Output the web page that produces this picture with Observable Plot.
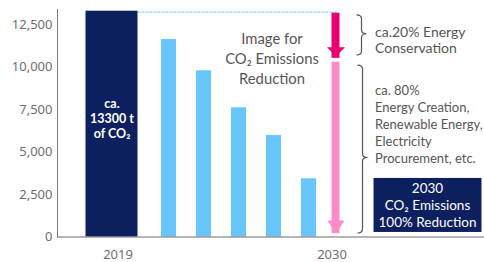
<!DOCTYPE html>
<html><head><meta charset="utf-8">
<script src="https://cdn.jsdelivr.net/npm/d3@7"></script>
<script src="https://cdn.jsdelivr.net/npm/@observablehq/plot@0.6"></script>
<style>body{margin:0;background:#fff} #chart{width:484px;height:262px}</style>
</head><body><div id="chart"></div>
<script>
// ---- data ----
const categories = ["2019", "s1", "s2", "s3", "s4", "s5", "2030"];
const baseYear = "2019";
const targetYear = "2030";
const baseValue = 13300;
const stepCategories = ["s1", "s2", "s3", "s4", "s5"];
const stepValues = [11630, 9790, 7610, 5980, 3430];
const arrowFrom = [13300, 10300];
const arrowTo = [10640, 200];
const yTicks = [0, 2500, 5000, 7500, 10000, 12500];
const xLabels = ["2019", "2030"];
const barText = ["ca.", `${baseValue} t`, "of CO₂"];
const centerText = ["Image for", "CO₂ Emissions", "Reduction"];
const block1Text = ["ca.20% Energy", "Conservation"];
const block2Text = ["ca. 80%", "Energy Creation,", "Renewable Energy,", "Electricity", "Procurement, etc."];
const boxText = ["2030", "CO₂ Emissions", "100% Reduction"];

// ---- styles ----
const navy = "#0c1f5e", sky = "#66c6fd", hot = "#e8006e", soft = "#ff8cc8", gray = "#555", axisGray = "#6e6e6e";
const stepData = stepCategories.map((c, i) => ({c, v: stepValues[i]}));
const arrows = arrowFrom.map((f, i) => ({c: targetYear, from: f, to: arrowTo[i]}));

function headSymbol(w, h) {
  return {draw(ctx) { ctx.moveTo(-w / 2, -h); ctx.lineTo(w / 2, -h); ctx.lineTo(0, 0); ctx.closePath(); }};
}
function bracket(vTop, vBot, tipFrac, offset) {
  return (index, scales) => {
    const sx = scales.x, sy = scales.y;
    const bw = typeof sx.bandwidth === "function" ? sx.bandwidth() : (scales.scales && scales.scales.x ? scales.scales.x.bandwidth : 0);
    const xv = sx(targetYear) + bw / 2 + offset;
    const y0 = sy(vTop), y1 = sy(vBot);
    const yt = y0 + (y1 - y0) * tipFrac;
    const r = 4, s = 5;
    const d = `M${xv - s},${y0} Q${xv},${y0} ${xv},${y0 + r} L${xv},${yt - r} Q${xv},${yt} ${xv + s},${yt} Q${xv},${yt} ${xv},${yt + r} L${xv},${y1 - r} Q${xv},${y1} ${xv - s},${y1}`;
    const path = document.createElementNS("http://www.w3.org/2000/svg", "path");
    path.setAttribute("d", d);
    path.setAttribute("fill", "none");
    path.setAttribute("stroke", gray);
    path.setAttribute("stroke-width", 1.2);
    return path;
  };
}

const plot = Plot.plot({
  width: 484, height: 262,
  marginLeft: 57, marginRight: 0, marginTop: 9, marginBottom: 25.5,
  style: {fontFamily: "Lato, sans-serif", background: "#fff", overflow: "visible"},
  x: {type: "band", domain: categories, paddingInner: 0.5775, paddingOuter: 2.803, align: 0.339, axis: null},
  y: {domain: [0, 13400], axis: null},
  marks: [
    Plot.axisY(yTicks, {tickSize: 0, tickPadding: 5, fontSize: 13, fill: axisGray, fontFamily: "Noto Sans", tickFormat: d3.format(","), label: null}),
    Plot.frame({anchor: "left", stroke: "#7a7a7a"}),
    Plot.lineY([{c: baseYear, v: baseValue}, {c: targetYear, v: baseValue}], {x: "c", y: "v", stroke: "#8fd3ff", strokeWidth: 1.2, strokeDasharray: "2,2", dx: -8, dy: 1}),
    Plot.barY([{c: baseYear, v: baseValue}], {x: "c", y: "v", fill: navy, insetLeft: -18.5, insetRight: -18.5, dx: -22}),
    Plot.barY(stepData, {x: "c", y: "v", fill: sky}),
    Plot.barY([arrows[0]], {x: "c", y1: "from", y2: "to", fill: hot, insetLeft: 3.5, insetRight: 3.5, dx: -8, dy: 2}),
    Plot.dot([arrows[0]], {x: "c", y: "to", symbol: headSymbol(18, 9), r: 5, fill: hot, stroke: null, dx: -8}),
    Plot.barY([arrows[1]], {x: "c", y1: "from", y2: "to", fill: soft, insetLeft: 3.5, insetRight: 3.5, dx: -8}),
    Plot.dot([arrows[1]], {x: "c", y: "to", symbol: headSymbol(17, 13), r: 5, fill: soft, stroke: null, dx: -8}),
    Plot.ruleY([0], {stroke: "#6a6a6a", strokeWidth: 1.2}),
    bracket(13050, 10690, 0.47, 18),
    bracket(10100, 200, 0.55, 19),
    Plot.text([barText.join("\n")], {x: () => baseYear, y: () => 6980, text: d => d, fill: "white", fontWeight: "bold", fontSize: 12.5, lineHeight: 15 / 12.5, dx: -22}),
    Plot.text([centerText.join("\n")], {x: () => "s4", y: () => 10570, text: d => d, fill: gray, fontSize: 14.8, lineHeight: 20 / 14.8, dx: -2}),
    Plot.text([block1Text.join("\n")], {x: () => targetYear, y: () => 11633, text: d => d, fill: gray, fontSize: 14, lineHeight: 16 / 14, textAnchor: "start", dx: 31}),
    Plot.text([block2Text.join("\n")], {x: () => targetYear, y: () => 6685, text: d => d, fill: gray, fontSize: 13, lineHeight: 17 / 13, textAnchor: "start", dx: 31}),
    Plot.text([boxText.join("\n")], {x: () => targetYear, y: () => 1914, text: d => d, fill: "white", fontSize: 13.5, lineHeight: 17 / 13.5, dx: 83.5}),
    Plot.text([xLabels[0]], {x: () => baseYear, y: () => 0, text: d => d, fill: axisGray, fontSize: 13, fontFamily: "Noto Sans", dy: 17.5, dx: -16}),
    Plot.text([xLabels[1]], {x: () => targetYear, y: () => 0, text: d => d, fill: axisGray, fontSize: 13, fontFamily: "Noto Sans", dy: 17.5, dx: -12})
  ]
});
document.getElementById("chart").appendChild(plot);

// navy background box behind the target text (same local coordinates as the text)
const boxEl = Array.from(plot.querySelectorAll("text")).find(t => t.textContent.includes(boxText[2]));
if (boxEl) {
  const b = boxEl.getBBox();
  const rect = document.createElementNS("http://www.w3.org/2000/svg", "rect");
  const w = b.width + 10, h = 54;
  rect.setAttribute("x", b.x + b.width / 2 - w / 2);
  rect.setAttribute("y", b.y + b.height / 2 - h / 2);
  rect.setAttribute("width", w); rect.setAttribute("height", h);
  rect.setAttribute("fill", navy);
  const tf = boxEl.getAttribute("transform");
  if (tf) rect.setAttribute("transform", tf);
  boxEl.parentNode.insertBefore(rect, boxEl);
}
</script></body></html>
